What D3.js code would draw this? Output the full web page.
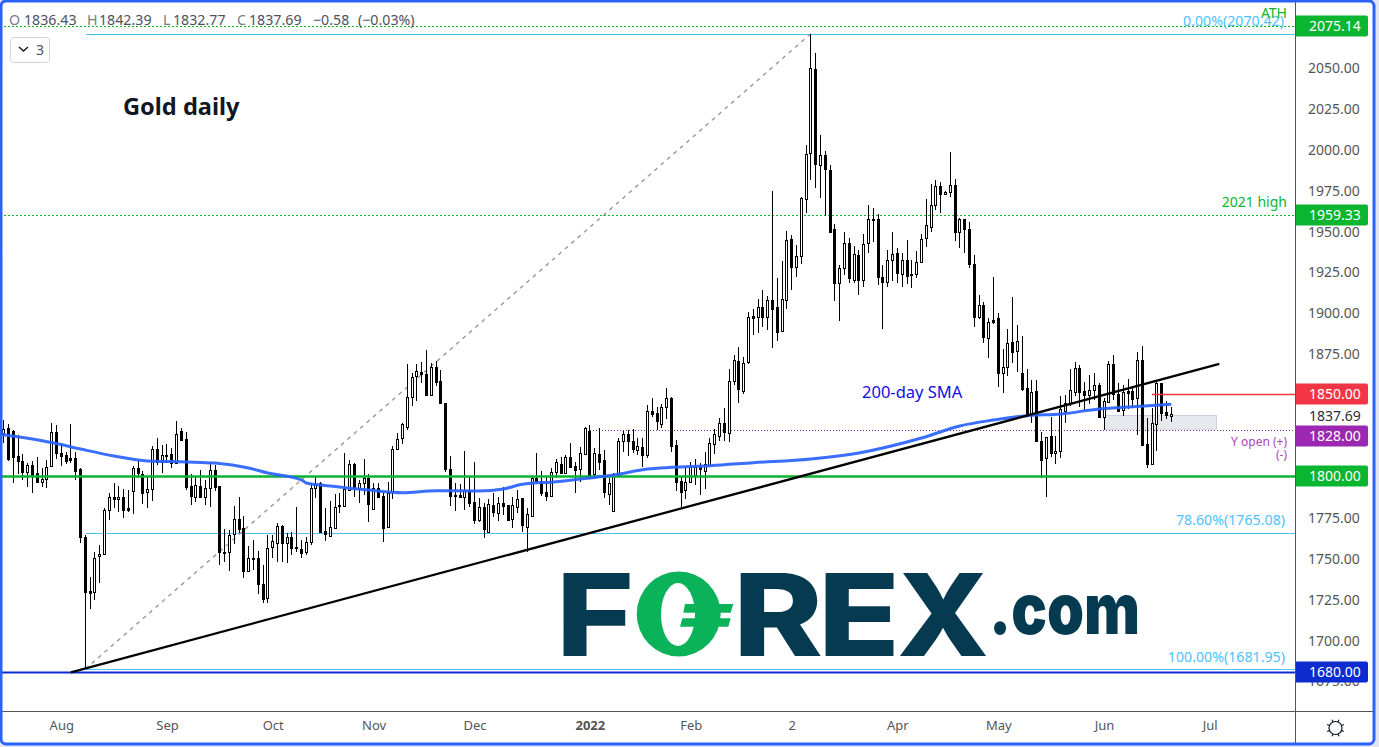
<!DOCTYPE html>
<html><head><meta charset="utf-8"><title>Gold daily</title>
<script src="https://cdn.jsdelivr.net/npm/d3@7"></script>
<style>html,body{margin:0;padding:0;background:#fff;overflow:hidden}svg{display:block}text{font-family:"Noto Sans",sans-serif}</style>
</head><body><div id="chart"></div>
<script>
const opens=[1826.5,1829.2,1827.8,1812.3,1809.0,1802.7,1806.6,1801.7,1796.6,1798.0,
1806.2,1827.1,1813.9,1812.7,1810.9,1810.9,1804.1,1762.6,1729.8,1729.0,
1750.8,1752.2,1779.1,1787.0,1785.8,1787.0,1780.5,1791.1,1804.7,1801.3,
1790.5,1791.9,1816.4,1808.8,1812.3,1813.5,1807.8,1827.4,1822.5,1793.9,
1787.4,1793.7,1787.4,1792.5,1803.5,1793.9,1753.6,1753.8,1764.4,1773.6,
1768.1,1742.2,1749.9,1749.7,1733.9,1725.3,1756.3,1759.3,1769.3,1759.3,
1762.6,1756.7,1755.4,1753.3,1759.5,1792.5,1795.5,1766.4,1763.5,1768.0,
1782.3,1781.9,1791.4,1807.3,1792.5,1795.5,1798.6,1779.6,1792.5,1787.8,
1768.6,1790.0,1816.3,1823.4,1830.1,1848.5,1861.1,1863.3,1862.1,1849.5,
1866.4,1857.8,1844.4,1804.1,1787.8,1788.4,1787.4,1791.4,1783.9,1773.1,
1780.8,1766.0,1782.3,1777.6,1783.3,1782.3,1773.7,1781.2,1786.3,1769.0,
1775.7,1798.6,1796.7,1790.0,1788.0,1802.6,1807.3,1801.6,1811.4,1806.1,
1804.1,1813.2,1827.3,1801.1,1813.5,1809.8,1788.8,1778.4,1800.7,1821.2,
1825.5,1821.4,1815.9,1817.6,1813.1,1839.6,1838.3,1832.0,1842.0,1847.5,
1819.0,1797.0,1791.3,1796.2,1800.7,1805.7,1803.3,1807.0,1819.4,1824.5,
1832.2,1826.1,1857.9,1870.3,1852.2,1869.5,1897.8,1897.4,1903.1,1897.4,
1907.6,1903.1,1888.4,1907.4,1944.7,1928.0,1934.7,1969.1,1997.2,2048.6,
1989.9,1996.0,1987.0,1950.8,1917.8,1927.0,1942.2,1920.0,1934.9,1920.0,
1942.2,1956.7,1956.9,1921.9,1918.4,1931.8,1936.1,1923.7,1931.8,1923.3,
1923.3,1930.6,1945.3,1952.4,1965.9,1977.1,1972.2,1973.8,1977.7,1949.0,
1956.9,1950.8,1929.4,1897.4,1904.7,1884.6,1895.4,1896.4,1862.8,1866.8,
1881.7,1876.2,1862.8,1853.6,1837.7,1851.8,1821.2,1810.8,1824.5,1813.9,
1815.5,1839.9,1844.4,1851.6,1865.8,1851.8,1849.7,1852.4,1855.4,1836.3,
1845.5,1868.3,1850.1,1840.2,1852.0,1852.0,1847.5,1870.9,1819.6,1807.2,
1831.6,1856.7,1839.1,1836.43];
const closes=[1828.6,1810.2,1811.9,1809.4,1802.7,1806.6,1800.7,1796.6,1798.0,1805.8,
1827.1,1813.9,1812.5,1809.4,1810.0,1803.3,1762.6,1729.4,1728.2,1749.7,
1752.2,1779.3,1787.0,1785.8,1787.0,1779.3,1779.3,1804.7,1801.9,1789.9,
1791.9,1816.4,1808.4,1812.7,1812.7,1808.2,1825.5,1822.1,1793.1,1788.0,
1794.4,1787.0,1792.5,1803.5,1793.5,1753.4,1753.2,1763.8,1773.6,1767.7,
1742.2,1749.7,1749.5,1733.9,1724.9,1755.9,1760.1,1769.3,1759.3,1762.6,
1755.9,1755.9,1753.1,1759.5,1792.5,1795.1,1766.0,1764.5,1769.0,1780.8,
1781.5,1791.8,1807.1,1792.5,1795.5,1798.6,1782.7,1792.5,1787.4,1768.4,
1789.8,1816.3,1822.8,1831.6,1848.5,1860.7,1864.4,1862.1,1849.5,1866.4,
1857.6,1844.8,1804.1,1788.0,1788.2,1787.4,1791.4,1783.7,1773.1,1780.8,
1767.8,1782.9,1777.8,1783.3,1781.9,1773.1,1782.3,1785.9,1770.0,1776.8,
1798.8,1796.9,1789.8,1788.0,1802.2,1808.3,1801.6,1811.4,1805.7,1803.7,
1813.8,1829.1,1798.6,1813.9,1808.4,1790.5,1795.6,1801.3,1821.2,1825.5,
1821.6,1816.8,1818.4,1812.9,1839.6,1837.9,1833.9,1842.0,1847.5,1818.6,
1796.6,1790.5,1796.2,1805.7,1805.7,1804.1,1807.2,1820.0,1825.5,1832.2,
1827.1,1857.9,1870.7,1853.0,1868.9,1897.4,1896.8,1903.1,1897.4,1907.6,
1902.3,1888.2,1908.0,1944.1,1927.6,1934.7,1970.1,1996.6,2049.2,1990.5,
1996.0,1987.4,1949.4,1917.8,1927.0,1942.2,1920.8,1935.5,1920.0,1941.6,
1956.9,1957.1,1921.4,1918.4,1931.8,1935.5,1923.9,1931.8,1922.5,1922.9,
1930.6,1945.1,1953.2,1965.5,1977.3,1972.6,1973.8,1977.7,1949.4,1956.9,
1950.8,1929.4,1897.4,1904.3,1885.2,1893.9,1894.1,1862.8,1866.4,1881.1,
1876.0,1882.3,1853.4,1836.7,1851.2,1821.6,1810.0,1823.7,1814.3,1815.5,
1840.8,1844.8,1852.4,1865.8,1851.6,1849.7,1852.4,1855.4,1836.3,1845.7,
1868.3,1850.1,1839.9,1851.6,1851.0,1847.1,1870.9,1819.0,1807.4,1832.2,
1856.7,1838.7,1837.5,1837.69];
const highs=[1834.3,1831.8,1828.2,1825.1,1813.3,1807.8,1809.4,1811.5,1804.7,1809.8,
1832.2,1831.2,1820.0,1814.5,1831.8,1814.9,1804.7,1764.0,1738.5,1753.8,
1757.9,1780.3,1789.5,1795.6,1793.9,1791.9,1791.5,1806.4,1809.2,1802.9,
1799.6,1818.6,1823.3,1819.0,1819.6,1817.0,1833.7,1829.2,1826.7,1801.3,
1799.6,1803.7,1797.6,1808.4,1806.8,1793.9,1767.5,1767.1,1781.7,1787.0,
1775.8,1757.3,1760.9,1754.4,1745.7,1764.0,1764.0,1771.1,1770.1,1765.0,
1765.6,1780.9,1760.9,1762.9,1795.5,1799.6,1796.1,1780.2,1784.7,1788.8,
1789.4,1814.2,1809.8,1808.1,1797.5,1810.2,1801.0,1795.9,1795.9,1789.4,
1796.5,1818.3,1826.1,1832.2,1868.4,1863.1,1868.4,1869.9,1877.0,1868.8,
1870.5,1864.8,1844.4,1812.2,1795.5,1795.1,1815.1,1799.6,1808.8,1786.3,
1783.3,1785.7,1789.4,1787.4,1793.5,1782.3,1787.4,1791.4,1786.3,1780.6,
1799.2,1813.8,1803.3,1799.6,1804.7,1810.2,1811.8,1812.8,1820.0,1808.8,
1817.9,1829.7,1831.2,1816.9,1829.2,1815.9,1798.6,1802.1,1823.1,1827.7,
1828.2,1828.6,1823.1,1823.1,1843.2,1847.5,1842.4,1844.0,1853.6,1848.5,
1822.0,1799.6,1805.7,1808.4,1810.2,1807.8,1814.5,1823.1,1828.6,1835.3,
1841.4,1865.2,1874.0,1879.1,1873.0,1900.5,1901.9,1908.0,1913.7,1910.0,
1974.2,1920.8,1931.4,1949.8,1947.3,1941.2,1970.7,2002.3,2070.4,2058.7,
2008.4,1998.7,1990.1,1953.8,1929.0,1949.4,1945.3,1940.6,1938.2,1947.9,
1965.7,1964.0,1960.2,1929.0,1938.2,1949.2,1939.2,1936.1,1944.3,1932.0,
1937.5,1947.9,1969.3,1978.5,1980.9,1979.9,1974.0,1998.0,1981.5,1957.5,
1957.1,1955.5,1935.1,1910.7,1906.6,1896.4,1921.8,1899.4,1877.4,1889.6,
1909.2,1892.3,1885.6,1865.4,1858.7,1858.7,1827.1,1824.1,1835.9,1824.5,
1848.9,1849.5,1865.2,1869.5,1867.9,1857.7,1861.7,1863.2,1856.7,1847.5,
1870.3,1874.0,1856.7,1855.6,1859.3,1854.2,1876.0,1879.5,1835.3,1841.4,
1857.7,1856.7,1845.9,1842.39];
const lows=[1820.4,1809.4,1795.6,1801.3,1797.6,1793.5,1789.9,1796.6,1793.5,1792.9,
1805.8,1810.2,1806.4,1807.4,1807.8,1797.6,1758.9,1682.0,1718.6,1724.3,
1734.5,1751.8,1772.8,1780.7,1778.3,1774.6,1778.3,1776.8,1798.6,1782.7,
1780.3,1784.8,1806.8,1802.1,1807.8,1805.1,1807.8,1821.6,1791.5,1782.3,
1784.4,1786.4,1782.3,1781.3,1790.9,1745.7,1747.7,1742.2,1758.3,1765.0,
1737.9,1741.6,1742.6,1727.9,1722.2,1722.2,1750.1,1747.7,1747.7,1746.7,
1751.8,1753.8,1750.1,1751.7,1757.8,1786.3,1765.4,1760.5,1762.9,1767.4,
1777.2,1781.9,1791.0,1787.4,1783.7,1788.4,1772.1,1779.2,1786.3,1759.5,
1768.4,1785.7,1816.3,1819.3,1828.1,1843.0,1845.8,1856.6,1849.1,1849.1,
1855.0,1844.4,1802.6,1781.9,1778.8,1786.3,1779.2,1780.8,1770.5,1772.1,
1762.3,1766.0,1775.1,1772.5,1776.1,1773.1,1768.0,1777.2,1766.0,1753.8,
1775.7,1795.9,1787.8,1784.9,1787.8,1799.0,1801.6,1801.2,1805.3,1789.8,
1796.5,1812.8,1798.2,1798.2,1803.7,1786.8,1782.3,1778.2,1800.2,1814.9,
1812.5,1814.3,1812.9,1805.7,1810.8,1835.9,1828.2,1829.6,1834.9,1814.9,
1790.9,1780.9,1785.8,1796.0,1794.5,1788.4,1792.1,1806.4,1813.5,1821.4,
1821.4,1821.0,1855.7,1844.9,1850.2,1868.3,1886.2,1887.6,1891.3,1889.3,
1878.5,1882.7,1888.2,1901.9,1913.7,1921.9,1929.6,1961.0,1980.9,1976.2,
1970.1,1958.7,1949.4,1907.2,1895.0,1922.9,1918.2,1918.2,1910.7,1915.7,
1936.5,1943.3,1916.8,1889.9,1915.3,1919.4,1917.8,1915.7,1917.4,1915.1,
1920.8,1930.0,1940.2,1949.4,1962.6,1960.6,1972.0,1970.7,1943.9,1939.6,
1936.5,1926.9,1891.3,1895.8,1881.5,1872.3,1892.7,1854.6,1850.5,1861.3,
1868.9,1863.8,1852.0,1835.9,1832.2,1821.6,1799.0,1787.4,1811.8,1807.4,
1810.8,1832.6,1843.0,1849.1,1842.4,1839.7,1844.0,1846.5,1835.3,1828.1,
1844.4,1846.5,1839.9,1836.7,1840.8,1841.4,1825.1,1818.6,1805.1,1806.7,
1815.5,1833.6,1834.9,1832.77];
const smaIndex=[-1,10,16,23,30,38,44,51,55,62,63,68,76,83,90,99,104,108,115,122,127,134,139,147,156,168,178,191,199,206,213,220,228,235,243];
const smaValues=[1825.7,1820.5,1816.5,1812.2,1809.2,1808.6,1807.9,1804.9,1801.8,1797.6,1795.7,1793.9,1791.4,1789.8,1791.0,1790.8,1792.1,1794.9,1796.5,1798.8,1800.6,1804.3,1805.3,1806.3,1808.1,1810.4,1814.1,1823.2,1830.6,1834.2,1836.9,1837.9,1841.0,1842.4,1843.8];
const priceTicks=[1675,1700,1725,1750,1775,1875,1900,1925,1950,1975,2000,2025,2050];
const monthIndex=[12,34,56,77,98,122,143,164,186,207,229,251];
const monthLabels=["Aug","Sep","Oct","Nov","Dec","2022","Feb","2","Apr","May","Jun","Jul"];
const trendIndex=[14,253], trendValues=[1680,1868.5];
const fibIndex=[17,168], fibValues=[1681.95,2070.42];
const priceTags=[
 {v:2075.14,label:"2075.14",c:"#0ab52f",shift:0},{v:1959.33,label:"1959.33",c:"#0ab52f",shift:0},
 {v:1850,label:"1850.00",c:"#f23645",shift:0},{v:1828,label:"1828.00",c:"#9c27b0",shift:6},
 {v:1800,label:"1800.00",c:"#0ab52f",shift:0},{v:1680,label:"1680.00",c:"#0d2ccf",shift:0}];

const W=1379,H=747,axisX=1295,axisY=711;
const x=d3.scaleLinear([0,243],[3.6,1171.3]);
const y=d3.scaleLinear([1800,2050],[476,67]);
const crisp=v=>Math.round(v)+0.5;

const svg=d3.select("#chart").append("svg").attr("width",W).attr("height",H);
svg.append("rect").attr("width",W).attr("height",H).attr("fill","#e3e6ef");
svg.append("rect").attr("x",1).attr("y",1).attr("width",1374).attr("height",743).attr("rx",5).attr("fill","#fff");
svg.append("clipPath").attr("id","pane").append("rect").attr("x",2).attr("y",2).attr("width",axisX-2).attr("height",axisY-2);
const pane=svg.append("g").attr("clip-path","url(#pane)");
const hline=(v,x0,col,w,dash)=>pane.append("line").attr("x1",x0).attr("x2",axisX).attr("y1",crisp(y(v))).attr("y2",crisp(y(v))).attr("stroke",col).attr("stroke-width",w).attr("stroke-dasharray",dash||null);

// logo
const logoC="#063a50",logoG="#0ab35a",logo=svg.append("g");
const letter=(t,x0,w)=>logo.append("text").text(t).attr("x",x0).attr("y",656).attr("textLength",w).attr("lengthAdjust","spacingAndGlyphs").attr("fill",logoC).style("font-family","Inter,Roboto,sans-serif").style("font-weight",800).style("font-size","114px");
letter("F",556,78);letter("R",733,90);letter("E",818,82);letter("X",897,92);
logo.append("ellipse").attr("cx",678.7).attr("cy",614).attr("rx",42).attr("ry",42.5).attr("fill",logoG);
logo.append("ellipse").attr("cx",678).attr("cy",614.5).attr("rx",17).attr("ry",31.5).attr("fill","#fff");
logo.append("polygon").attr("points","685,604 733.300,604 730.700,612.700 683.300,612.700").attr("fill",logoG);
logo.append("polygon").attr("points","682.300,618.300 730.700,618.300 728.300,626.700 680,626.700").attr("fill",logoG);
logo.append("text").text(".com").attr("x",989).attr("y",634).attr("textLength",151).attr("lengthAdjust","spacingAndGlyphs").attr("fill",logoC).style("font-family","Inter,Roboto,sans-serif").style("font-weight",900).style("font-size","70px");

// reference levels below candles
hline(2075.14,0,"#0ab52f",1,"2 2");
hline(1959.33,0,"#0ab52f",1,"2 2");
hline(2070.42,86,"#45c3f5",1);
hline(1765.08,86,"#4fc3f7",1);
hline(1681.95,86,"#4fc3f7",1);
hline(1828,590,"#7b2d9a",1,"1 2");
pane.append("rect").attr("x",crisp(x(229))).attr("y",crisp(y(1837))).attr("width",x(252.3)-x(229)).attr("height",y(1828.7)-y(1837)).attr("fill","#e8e9ee").attr("stroke","#cdd0de");
pane.append("line").attr("x1",x(fibIndex[0])).attr("y1",y(fibValues[0])).attr("x2",x(fibIndex[1])).attr("y2",y(fibValues[1])).attr("stroke","#999").attr("stroke-width",1.4).attr("stroke-dasharray","4 4.500");

// candles
const idx=d3.range(opens.length);
const candles=pane.append("g").selectAll("g").data(idx).join("g");
candles.append("rect").attr("x",i=>Math.floor(x(i))).attr("width",1)
 .attr("y",i=>Math.round(y(highs[i]))).attr("height",i=>Math.max(1,Math.round(y(lows[i]))-Math.round(y(highs[i])))).attr("fill","#000");
candles.append("rect").attr("x",i=>Math.floor(x(i))-0.5).attr("width",2)
 .attr("y",i=>crisp(y(Math.max(opens[i],closes[i]))))
 .attr("height",i=>Math.max(1,Math.round(y(Math.min(opens[i],closes[i])))-Math.round(y(Math.max(opens[i],closes[i])))))
 .attr("fill",i=>closes[i]>=opens[i]?"#fff":"#000").attr("stroke","#000").attr("stroke-width",1);

// lines above candles
hline(1800,0,"#0ab52f",2.4);
hline(1850,1152,"#f23645",1.6);
hline(1680,0,"#0d2ccf",2);
pane.append("path").attr("d",d3.line().x(i=>x(smaIndex[i])).y(i=>y(smaValues[i])).curve(d3.curveMonotoneX)(d3.range(smaIndex.length))).attr("fill","none").attr("stroke","#2962ff").attr("stroke-width",3).attr("stroke-opacity",0.92);
pane.append("line").attr("x1",x(trendIndex[0])).attr("y1",y(trendValues[0])).attr("x2",x(trendIndex[1])).attr("y2",y(trendValues[1])).attr("stroke","#000").attr("stroke-width",2.3);

// annotations
const note=(t,xx,yy,col,size,anchor,weight)=>svg.append("text").text(t).attr("x",xx).attr("y",yy).attr("fill",col).attr("text-anchor",anchor||"start").style("font-size",size+"px").style("font-weight",weight||400);
note("Gold daily",123,115,"#131722",23.6,"start",700);
note("200-day SMA",862,398,"#1010e0",16.5);
note("2021 high",1287,207,"#0ab52f",14,"end");
note("0.00%(2070.42)",1284,26,"#4cc2ff",14.2,"end");
note("ATH",1287,18,"#0ab52f",14,"end");
note("78.60%(1765.08)",1285,525,"#4cc2ff",14.2,"end");
note("100.00%(1681.95)",1285,662,"#4cc2ff",14.2,"end");
note("Y open (+)",1287,446,"#ab47bc",12,"end");
note("(-)",1287,459,"#ab47bc",12,"end");

// header
[["O",9,"#787b86"],["1836.43",24,"#4c525e"],["H",87,"#787b86"],["1842.39",99,"#4c525e"],["L",163,"#787b86"],["1832.77",173,"#4c525e"],["C",237,"#787b86"],["1837.69",249,"#4c525e"],["−0.58",313,"#4c525e"],["(−0.03%)",358,"#4c525e"]]
 .forEach(d=>note(d[0],d[1],25,d[2],14.2));
svg.append("rect").attr("x",10.5).attr("y",37.5).attr("width",39).attr("height",25).attr("rx",3).attr("fill","#fff").attr("stroke","#d1d4dc");
svg.append("path").attr("d","M19 47l4.500 4 4.500-4").attr("fill","none").attr("stroke","#131722").attr("stroke-width",1.4);
note("3",36,55,"#4c525e",14);

// axes
svg.append("rect").attr("x",axisX).attr("y",2).attr("width",W-axisX-6).attr("height",741).attr("fill","#fff");
svg.append("rect").attr("x",2).attr("y",axisY).attr("width",axisX).attr("height",32).attr("fill","#fff");
const yAxis=d3.axisRight(y).tickValues(priceTicks).tickFormat(d=>d.toFixed(2)).tickSize(0).tickPadding(0);
const ga=svg.append("g").attr("transform",`translate(1308,1)`).call(yAxis);
ga.select(".domain").remove();
ga.selectAll("text").attr("fill","#555").style("font-size","14px").style("font-family",'"Noto Sans",sans-serif');
const xAxis=d3.axisBottom(x).tickValues(monthIndex).tickFormat((d,i)=>monthLabels[i]).tickSize(0).tickPadding(0);
const gb=svg.append("g").attr("transform",`translate(0,721)`).call(xAxis);
gb.select(".domain").remove();
gb.selectAll("text").attr("fill","#555").style("font-size","13px").style("font-family",'"Noto Sans",sans-serif').style("font-weight",(d,i)=>monthLabels[i]==="2022"?700:400);
svg.append("line").attr("x1",axisX+.5).attr("x2",axisX+.5).attr("y1",2).attr("y2",743).attr("stroke","#555");
svg.append("line").attr("x1",2).attr("x2",1373).attr("y1",axisY+.5).attr("y2",axisY+.5).attr("stroke","#555");

// tags
const tags=svg.append("g").selectAll("g").data(priceTags).join("g").attr("transform",d=>`translate(${axisX+1},${Math.round(y(d.v))+d.shift})`);
tags.append("path").attr("d","M0-10.500H70a2 2 0 0 1 2 2V8.500a2 2 0 0 1-2 2H0Z").attr("fill",d=>d.c);
tags.append("text").text(d=>d.label).attr("x",13).attr("y",5).attr("fill","#fff").style("font-size","14px");
note("1837.69",1309,421,"#2a2e39",14);

// settings icon
const gear=svg.append("g").attr("transform","translate(1335.5,728)");
gear.append("circle").attr("r",6.500).attr("fill","none").attr("stroke","#131722").attr("stroke-width",1.2);
d3.range(8).forEach(k=>{const a=k*Math.PI/4+Math.PI/8;gear.append("line").attr("x1",6.500*Math.cos(a)).attr("y1",6.500*Math.sin(a)).attr("x2",9*Math.cos(a)).attr("y2",9*Math.sin(a)).attr("stroke","#131722").attr("stroke-width",1.2);});

// frame
svg.append("rect").attr("x",1).attr("y",1).attr("width",1373).attr("height",743).attr("rx",5).attr("fill","none").attr("stroke","#2962ff").attr("stroke-width",3);
</script></body></html>
